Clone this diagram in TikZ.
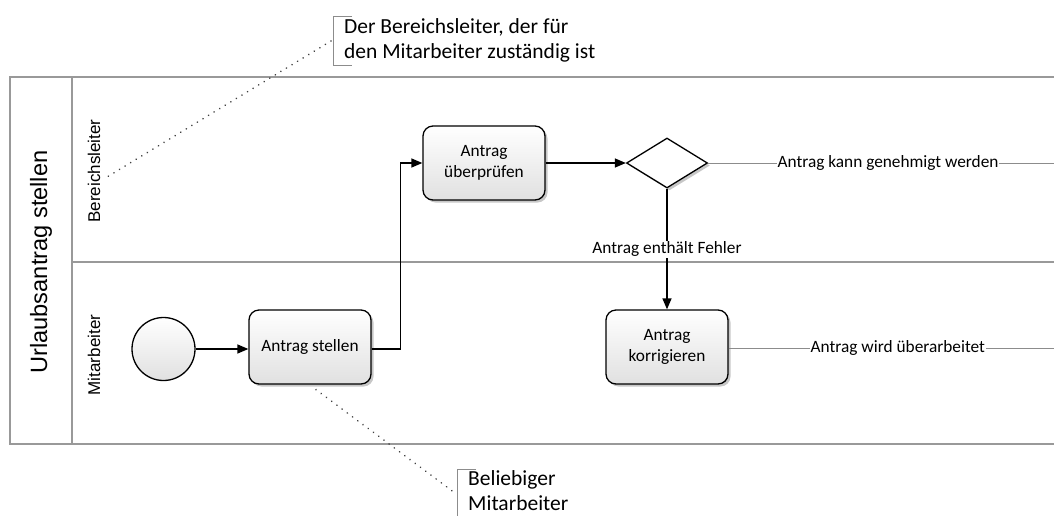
\documentclass[tikz,border=0pt]{standalone}
\usepackage{fontspec}
\setmainfont{Carlito}
\newfontfamily\arialf{Liberation Sans}
\usetikzlibrary{arrows.meta,shapes.geometric,shadows}
\begin{document}
\begin{tikzpicture}[x=1pt,y=-1pt,
  pool/.style={draw=black!40,line width=1.1pt},
  task/.style={draw=black,line width=1.3pt,rounded corners=10pt,
    minimum width=122pt,minimum height=74pt,align=center,
    top color=white,bottom color=black!12,
    font=\fontsize{17.3}{21}\selectfont,
    drop shadow={shadow xshift=2.5pt,shadow yshift=-2.5pt,fill=black!22,opacity=1}},
  startev/.style={circle,draw=black,line width=1.3pt,minimum size=63pt,
    top color=white,bottom color=black!12},
  gate/.style={diamond,draw=black,line width=1.3pt,aspect=1.62,inner sep=0pt,
    minimum width=81pt,minimum height=50pt,fill=white,
    drop shadow={shadow xshift=2.5pt,shadow yshift=-2.5pt,fill=black!22,opacity=1}},
  flow/.style={draw=black,line width=1.4pt,-{Triangle[length=11pt,width=9pt]}},
  thin/.style={draw=black!45,line width=0.9pt},
  lbl/.style={fill=white,inner sep=1pt,font=\fontsize{17.3}{21}\selectfont},
  note/.style={align=left,inner sep=0pt,font=\fontsize{21.5}{25}\selectfont},
  bracket/.style={draw=black!45,line width=1pt},
  assoc/.style={draw=black!75,line width=1.8pt,dash pattern=on 0.01pt off 6.5pt,line cap=round},
  lanelbl/.style={rotate=90,font=\arialf\fontsize{17}{20}\selectfont},
]
\useasboundingbox (0,0) rectangle (1054,515);

% pool and lanes
\draw[pool] (1054,77) -- (10,77) -- (10,444) -- (1054,444);
\draw[pool] (72,77) -- (72,444);
\draw[pool] (72,262) -- (1054,262);
\node[rotate=90,font=\arialf\fontsize{23.6}{26}\selectfont] (pooltitle) at (41,262) {Urlaubsantrag stellen};
\node[lanelbl] (lane1) at (94,171) {Bereichsleiter};
\node[lanelbl] (lane2) at (94,355) {Mitarbeiter};

% flow objects
\node[startev] (start) at (163.5,349) {};
\node[task] (stellen) at (310,347) {Antrag stellen};
\node[task] (pruefen) at (484,163) {Antrag\\überprüfen};
\node[gate] (gw) at (667,163) {};
\node[task] (korr) at (667,347) {Antrag\\korrigieren};
\coordinate (endA) at (1054,163);
\coordinate (endB) at (1054,348);

% sequence flows
\draw[flow] (start) -- (stellen.west |- start.east);
\draw[flow] (stellen.east |- start.east) -- ++(29,0) |- (pruefen.west);
\draw[flow] (pruefen.east) -- (gw.west);
\draw[flow] (gw.south) -- node[lbl,pos=0.5] (lblF) {Antrag enthält Fehler} (korr.north);
\draw[thin] (gw.east) -- node[lbl,pos=0.52] (lblA) {Antrag kann genehmigt werden} (endA);
\draw[thin] (korr.east |- endB) -- node[lbl,pos=0.52] (lblB) {Antrag wird überarbeitet} (endB);

% annotations
\draw[bracket] (352,16) -- (333,16) -- (333,65) -- (352,65);
\node[note,anchor=west] (note1) at (344,40.5) {Der Bereichsleiter, der für\\den Mitarbeiter zuständig ist};
\coordinate (n1a) at (331,41);
\coordinate (n1b) at (107,177);
\draw[assoc] (n1a) -- (n1b);

\draw[bracket] (476,469) -- (457,469) -- (457,517) -- (476,517);
\node[note,anchor=west] (note2) at (468,491) {Beliebiger\\Mitarbeiter};
\coordinate (n2a) at (455,493);
\draw[assoc] (stellen.south) ++(6,5) coordinate (n2s) -- (n2a);
\end{tikzpicture}
\end{document}
